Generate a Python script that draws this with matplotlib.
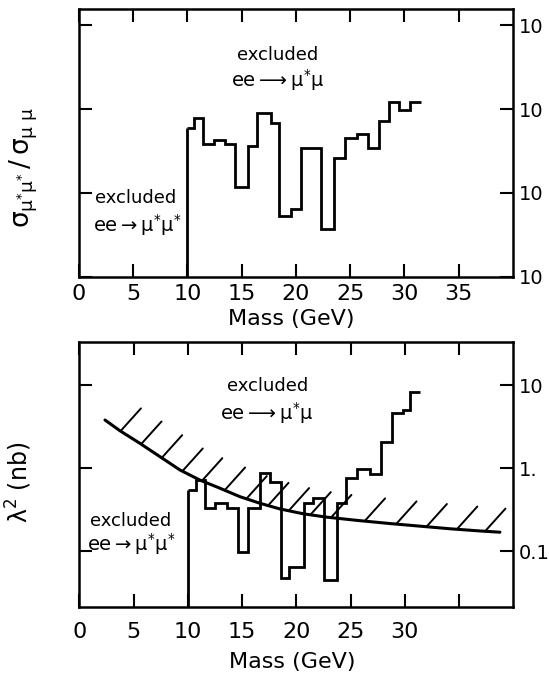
import numpy as np
import matplotlib
matplotlib.use('Agg')
import matplotlib.pyplot as plt
from matplotlib.ticker import FixedLocator, FixedFormatter, NullLocator

plt.rcParams['font.family'] = 'DejaVu Sans'
plt.rcParams['mathtext.fontset'] = 'dejavusans'
plt.rcParams['mathtext.default'] = 'regular'

# upper panel: limit on sigma(mu* mu*) / sigma(mu mu), step per mass bin
ratio_edges = [10.0, 10.56, 11.42, 12.45, 13.45, 14.4, 15.57, 16.45, 17.68, 18.45, 19.53,
               20.5, 22.33, 23.5, 24.48, 25.6, 26.65, 27.63, 28.55, 29.53, 30.55, 31.5]
ratio_limit = [6.0e-3, 7.9e-3, 3.8e-3, 4.3e-3, 3.8e-3, 1.17e-3, 3.6e-3, 8.9e-3, 6.8e-3,
               5.3e-4, 6.5e-4, 3.4e-3, 3.7e-4, 2.6e-3, 4.5e-3, 5.1e-3, 3.4e-3, 7.3e-3,
               1.22e-2, 9.7e-3, 1.22e-2]
ratio_ticks = [1e-4, 1e-3, 1e-2, 1e-1]
ratio_ticklabels = ['10', '10', '10', '10']

# lower panel: limit on lambda^2 (nb)
lam_edges = [10.0, 10.76, 11.59, 12.51, 13.59, 14.6, 15.58, 16.65, 17.58, 18.59, 19.35,
             20.71, 21.57, 22.58, 23.72, 24.58, 25.57, 26.79, 27.78, 28.79, 29.86, 30.48, 31.4]
lam_limit = [0.547, 0.72, 0.334, 0.385, 0.334, 0.097, 0.334, 0.87, 0.69, 0.047, 0.064,
             0.385, 0.434, 0.045, 0.385, 0.76, 0.97, 0.85, 2.1, 4.6, 5.1, 8.4]
lam_ticks = [0.1, 1.0, 10.0]
lam_ticklabels = ['0.1', '1.', '10']

# excluded region from ee -> mu* mu (hatched curve)
curve_mass = [2.37, 3.75, 5.59, 7.44, 9.28, 11.12, 12.97, 14.81, 16.65, 18.49, 20.65,
              22.8, 25.71, 28.64, 31.4, 34.16, 36.93, 38.77]
curve_lam2 = [3.83, 2.84, 2.0, 1.38, 0.954, 0.72, 0.574, 0.454, 0.378, 0.323, 0.282,
              0.257, 0.234, 0.215, 0.2, 0.186, 0.175, 0.169]
hatch_mass = [3.8, 5.7, 7.6, 9.5, 11.3, 13.4, 15.4, 17.4, 19.3, 21.3, 23.2,
              26.3, 29.2, 32.0, 34.8, 37.4]

mass_ticks = [0, 5, 10, 15, 20, 25, 30, 35]

fig = plt.figure(figsize=(5.49, 6.79), dpi=100)
ax1 = fig.add_axes([0.1439, 0.5925, 0.7905, 0.3938])
ax2 = fig.add_axes([0.1444, 0.1065, 0.7905, 0.3898])

for ax in (ax1, ax2):
    ax.set_yscale('log')
    ax.set_xlim(0, 40)
    for sp in ax.spines.values():
        sp.set_linewidth(1.8)
    ax.xaxis.set_major_locator(FixedLocator(mass_ticks))
    ax.xaxis.set_minor_locator(NullLocator())
    ax.yaxis.set_minor_locator(NullLocator())
    ax.tick_params(which='major', direction='in', length=9.5, width=1.5,
                   top=True, bottom=True, left=True, right=True,
                   labelleft=False, labelright=True, labelsize=16)
    ax.tick_params(axis='y', pad=4, labelsize=14)

# ---- upper panel
ax1.set_ylim(1e-4, 10 ** -0.81)
ax1.yaxis.set_major_locator(FixedLocator(ratio_ticks))
ax1.yaxis.set_major_formatter(FixedFormatter(ratio_ticklabels))
ax1.tick_params(axis='x', pad=5)
ax1.stairs(ratio_limit, ratio_edges, baseline=None, color='black', lw=2.0)
ax1.vlines(ratio_edges[0], 1e-4, ratio_limit[0], color='black', lw=2.0)
ax1.set_xlabel('Mass (GeV)', fontsize=16)
ax1.xaxis.set_label_coords(0.49, -0.12)
ax1.set_ylabel(r'$\sigma_{\mu^{*}\mu^{*}}\,/\,\sigma_{\mu\ \mu}$', fontsize=19)
ax1.yaxis.set_label_coords(-0.09, 0.41)

tr1 = ax1.get_xaxis_transform()
ax1.text(18.3, 0.83, 'excluded', transform=tr1, fontsize=13, ha='center', va='center')
ax1.text(18.3, 0.735, r'$ee \longrightarrow \mu^{*}\mu$', transform=tr1, fontsize=14,
         ha='center', va='center')
ax1.text(5.2, 0.295, 'excluded', transform=tr1, fontsize=13, ha='center', va='center')
ax1.text(5.4, 0.195, r'$ee \rightarrow \mu^{*}\mu^{*}$', transform=tr1, fontsize=14,
         ha='center', va='center')

# ---- lower panel
ax2.set_ylim(0.0213, 33.5)
ax2.yaxis.set_major_locator(FixedLocator(lam_ticks))
ax2.yaxis.set_major_formatter(FixedFormatter(lam_ticklabels))
ax2.xaxis.set_major_formatter(FixedFormatter([str(m) if m < 35 else '' for m in mass_ticks]))
ax2.tick_params(axis='x', pad=11)
ax2.stairs(lam_limit, lam_edges, baseline=None, color='black', lw=2.0)
ax2.vlines(lam_edges[0], 0.0213, lam_limit[0], color='black', lw=2.0)
ax2.plot(curve_mass, curve_lam2, color='black', lw=2.2, solid_capstyle='round')

# short diagonal hatches on the excluded side of the curve
log_curve = np.log10(curve_lam2)
ang = np.deg2rad(48)
hatch_len = 22
for m in hatch_mass:
    y0 = 10 ** np.interp(m, curve_mass, log_curve)
    ax2.annotate('', xy=(m, y0), xycoords='data',
                 xytext=(hatch_len * np.cos(ang), hatch_len * np.sin(ang)),
                 textcoords='offset points',
                 arrowprops=dict(arrowstyle='-', lw=1.4, color='black',
                                 shrinkA=0, shrinkB=0))

ax2.set_xlabel('Mass (GeV)', fontsize=16)
ax2.xaxis.set_label_coords(0.49, -0.17)
ax2.set_ylabel(r'$\lambda^{2}$ (nb)', fontsize=17)
ax2.yaxis.set_label_coords(-0.105, 0.47)

tr2 = ax2.get_xaxis_transform()
ax2.text(17.4, 0.835, 'excluded', transform=tr2, fontsize=13, ha='center', va='center')
ax2.text(17.3, 0.73, r'$ee \longrightarrow \mu^{*}\mu$', transform=tr2, fontsize=14,
         ha='center', va='center')
ax2.text(4.7, 0.325, 'excluded', transform=tr2, fontsize=13, ha='center', va='center')
ax2.text(4.8, 0.235, r'$ee \rightarrow \mu^{*}\mu^{*}$', transform=tr2, fontsize=14,
         ha='center', va='center')

fig.savefig('out.png', dpi=100)
